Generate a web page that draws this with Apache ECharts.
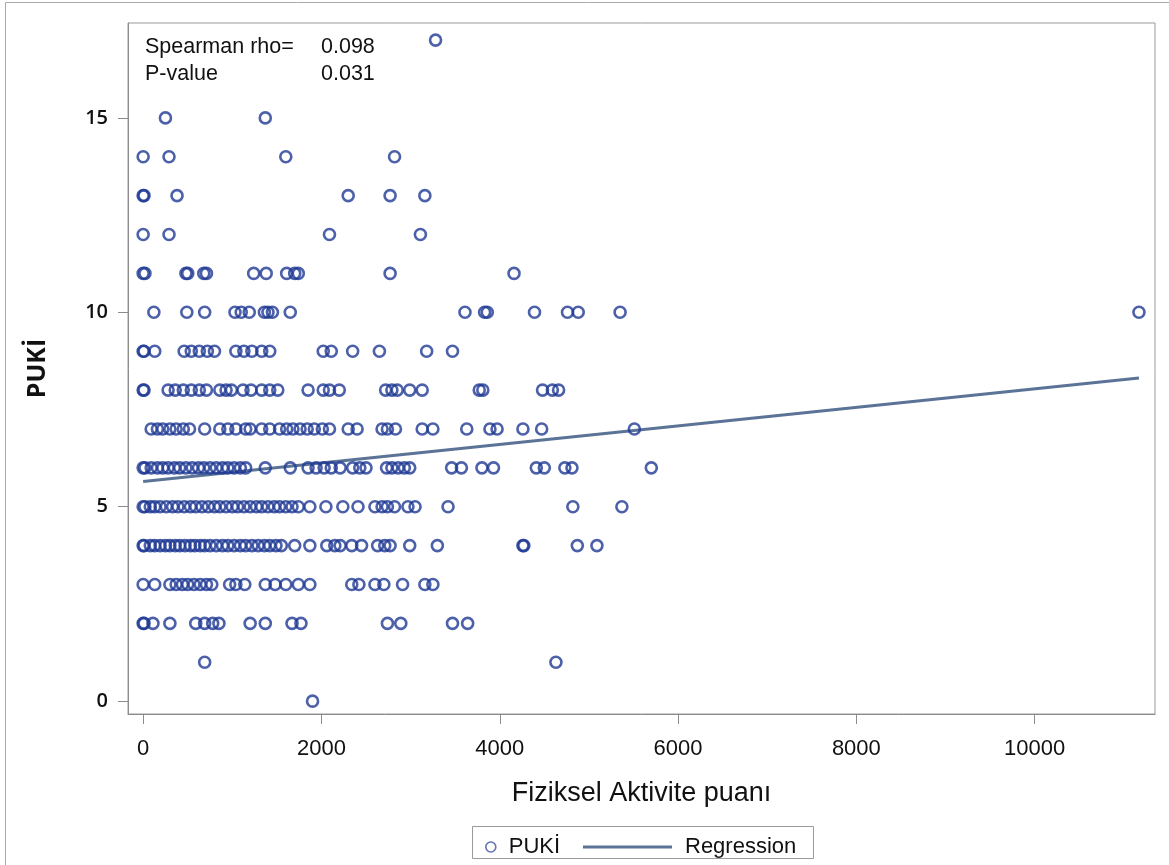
<!DOCTYPE html>
<html>
<head>
<meta charset="utf-8">
<script src="https://cdn.jsdelivr.net/npm/echarts@6/dist/echarts.min.js"></script>
<style>
  html, body { margin: 0; padding: 0; background: #fff; }
  #main { width: 1169px; height: 865px; }
</style>
</head>
<body>
<div id="main"></div>
<script>
// Fiziksel Aktivite puani values for each PUKİ score
var p17 = [3280];
var p15 = [250, 1370];
var p14 = [0, 290, 1600, 2820];
var p13 = [0, 10, 380, 2300, 2770, 3160];
var p12 = [0, 290, 2090, 3110];
var p11 = [0, 20, 480, 500, 680, 710, 1240, 1380, 1610, 1700, 1740, 2770, 4160];
var p10 = [120, 490, 690, 1030, 1100, 1190, 1360, 1400, 1450, 1650, 3610, 3830, 3860, 4390, 4760, 4880, 5350, 11170];
var p9 = [0, 10, 130, 460, 540, 630, 720, 800, 1040, 1130, 1220, 1330, 1420, 2020, 2110, 2350, 2650, 3180, 3470];
var p8 = [0, 10, 280, 360, 450, 540, 630, 710, 860, 930, 990, 1120, 1210, 1330, 1420, 1510, 1850, 2020, 2090, 2200,
          2720, 2790, 2850, 2990, 3130, 3770, 3810, 4480, 4590, 4660];
var p7 = [90, 160, 220, 300, 370, 450, 520, 690, 860, 950, 1040, 1150, 1200, 1330, 1420, 1530, 1610, 1680, 1760, 1840,
          1920, 2010, 2090, 2300, 2400, 2680, 2740, 2830, 3130, 3250, 3630, 3890, 3970, 4260, 4470, 5510];
var p6 = [0, 20, 90, 160, 220, 280, 350, 410, 480, 550, 620, 680, 750, 820, 890, 950, 1020, 1090, 1150, 1370, 1650,
          1850, 1940, 2030, 2110, 2210, 2350, 2430, 2500, 2730, 2790, 2860, 2930, 2990, 3460, 3570, 3800, 3930, 4410,
          4500, 4730, 4810, 5700];
var p5 = [0, 20, 80, 130, 190, 260, 330, 390, 460, 530, 590, 660, 730, 800, 860, 930, 1000, 1060, 1130, 1200, 1270,
          1330, 1400, 1470, 1530, 1600, 1670, 1740, 1870, 2050, 2240, 2410, 2600, 2680, 2740, 2820, 2970, 3050, 3420,
          4820, 5370];
var p4 = [0, 10, 80, 130, 190, 250, 300, 360, 410, 470, 530, 580, 640, 690, 750, 820, 890, 950, 1020, 1090, 1150,
          1220, 1290, 1360, 1420, 1490, 1550, 1700, 1870, 2060, 2150, 2210, 2340, 2450, 2630, 2710, 2770, 2990, 3300,
          4260, 4270, 4870, 5090];
var p3 = [0, 130, 300, 370, 440, 500, 570, 640, 710, 770, 970, 1040, 1140, 1370, 1480, 1600, 1740, 1870, 2340, 2420,
          2600, 2700, 2910, 3160, 3250];
var p2 = [0, 10, 110, 300, 590, 690, 780, 850, 1200, 1370, 1670, 1770, 2740, 2890, 3470, 3640];
var p1 = [690, 4630];
var p0 = [1900];

var levels = [0, 1, 2, 3, 4, 5, 6, 7, 8, 9, 10, 11, 12, 13, 14, 15, 17];
var byLevel = [p0, p1, p2, p3, p4, p5, p6, p7, p8, p9, p10, p11, p12, p13, p14, p15, p17];

// regression line end points
var regX = [0, 11170];
var regY = [5.65, 8.31];

var xTicks = [0, 2000, 4000, 6000, 8000, 10000];
var yTicks = [0, 5, 10, 15];

var points = [];
byLevel.forEach(function (arr, i) {
  arr.forEach(function (x) { points.push([x, levels[i]]); });
});
var regLine = regX.map(function (x, i) { return [x, regY[i]]; });

var blue = '#1f3a94';
var grey = '#8c8c8c';
var fontA = '"Liberation Sans", Arial, sans-serif';
var fontB = '"Open Sans", sans-serif';

var chart = echarts.init(document.getElementById('main'));
chart.setOption({
  animation: false,
  backgroundColor: '#fff',
  grid: {
    left: 128, right: 14, top: 23, bottom: 151,
    show: true, borderColor: '#9a9a9a', borderWidth: 1
  },
  xAxis: {
    type: 'value',
    min: -170, max: 11350,
    name: 'Fiziksel Aktivite puanı',
    nameLocation: 'middle',
    nameGap: 66,
    nameTextStyle: { fontFamily: fontA, fontSize: 27, color: '#111' },
    axisLine: { show: true, onZero: false, lineStyle: { color: grey } },
    axisTick: { show: true, length: 10, customValues: xTicks, lineStyle: { color: grey } },
    axisLabel: {
      customValues: xTicks, margin: 24, fontFamily: fontA, fontSize: 22, color: '#111',
      formatter: function (v) { return String(v); }
    },
    splitLine: { show: false }
  },
  yAxis: {
    type: 'value',
    min: -0.33, max: 17.44,
    name: 'PUKİ',
    nameLocation: 'middle',
    nameGap: 78,
    nameTextStyle: { fontFamily: fontB, fontSize: 25, fontWeight: 'bold', color: '#111' },
    axisLine: { show: true, onZero: false, lineStyle: { color: grey } },
    axisTick: { show: true, length: 10, customValues: yTicks, lineStyle: { color: grey } },
    axisLabel: { customValues: yTicks, margin: 20, fontFamily: fontB, fontSize: 20, fontWeight: 600, color: '#111' },
    splitLine: { show: false }
  },
  legend: [{
    data: [{
      name: 'PUKİ', icon: 'circle',
      itemStyle: { color: '#fff', borderColor: '#3b4f9c', borderWidth: 1.6 }
    }],
    left: 480, top: 831,
    itemWidth: 10, itemHeight: 10, itemGap: 0,
    textStyle: { fontFamily: fontA, fontSize: 22, color: '#111', padding: [0, 0, 0, 8] }
  }, {
    data: [{ name: 'Regression', icon: 'rect' }],
    left: 578, top: 831,
    itemWidth: 89, itemHeight: 3,
    textStyle: { fontFamily: fontA, fontSize: 22, color: '#111', padding: [0, 0, 0, 8] }
  }],
  graphic: [
    { type: 'rect', shape: { x: 472.5, y: 826.5, width: 341, height: 32 }, style: { fill: 'none', stroke: '#9a9a9a', lineWidth: 1 } },
    { type: 'line', shape: { x1: 5.5, y1: 2.5, x2: 1169, y2: 2.5 }, style: { stroke: '#aaa', lineWidth: 1 } },
    { type: 'line', shape: { x1: 5.5, y1: 2.5, x2: 5.5, y2: 865 }, style: { stroke: '#aaa', lineWidth: 1 } },
    { type: 'text', left: 145, top: 36, style: { text: 'Spearman rho=', font: '21.5px ' + fontA, fill: '#111' } },
    { type: 'text', left: 321, top: 36, style: { text: '0.098', font: '21.5px ' + fontA, fill: '#111' } },
    { type: 'text', left: 145, top: 63, style: { text: 'P-value', font: '21.5px ' + fontA, fill: '#111' } },
    { type: 'text', left: 321, top: 63, style: { text: '0.031', font: '21.5px ' + fontA, fill: '#111' } }
  ],
  series: [{
    name: 'PUKİ',
    type: 'scatter',
    data: points,
    symbol: 'circle',
    symbolSize: 11,
    itemStyle: { color: 'rgba(0,0,0,0)', borderColor: blue, borderWidth: 2.6 },
    z: 3
  }, {
    name: 'Regression',
    type: 'line',
    data: regLine,
    showSymbol: false,
    symbol: 'none',
    lineStyle: { color: '#5b7396', width: 3 },
    itemStyle: { color: '#5b7396' },
    z: 2
  }]
});
</script>
</body>
</html>
